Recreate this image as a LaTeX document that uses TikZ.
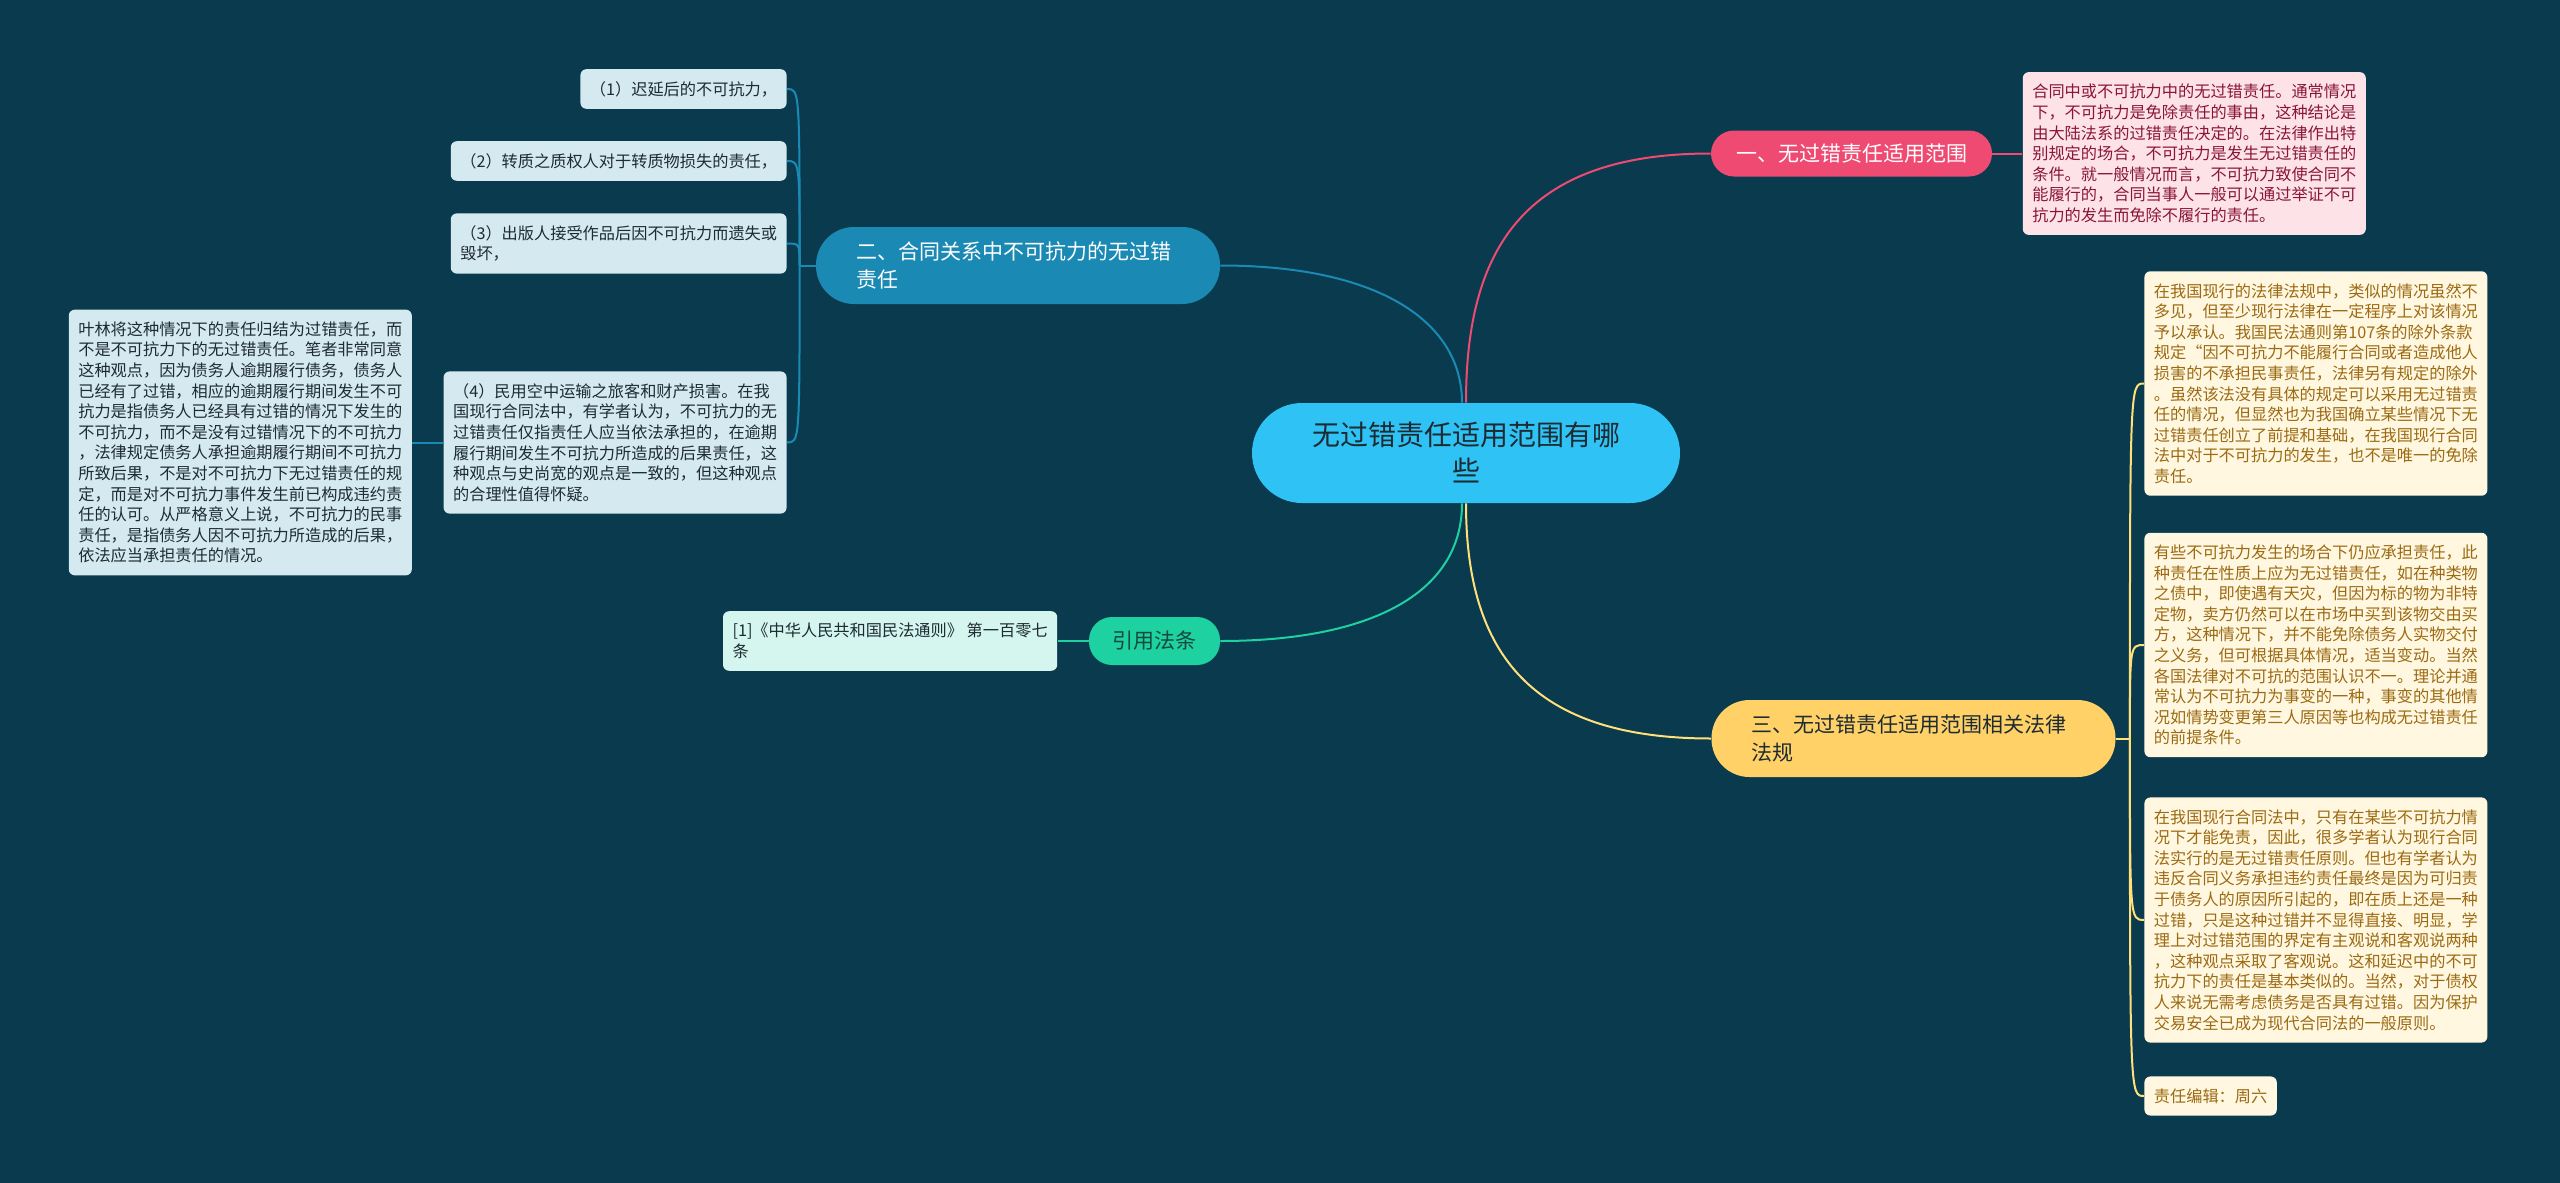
\documentclass[tikz,border=0pt]{standalone}
\usepackage{fontspec}
\setmainfont{Noto Sans CJK SC}
\usepackage{xcolor}
\usepackage{tikz}
\usetikzlibrary{positioning,calc}

\definecolor{bgc}{HTML}{0A3A4E}
\definecolor{rootc}{HTML}{2EC3F4}
\definecolor{pinkc}{HTML}{EE4A72}
\definecolor{pinkl}{HTML}{FDE3E8}
\definecolor{pinkt}{HTML}{8A1538}
\definecolor{bluec}{HTML}{1A8AB4}
\definecolor{bluel}{HTML}{D5E9F1}
\definecolor{greenc}{HTML}{1DD1A1}
\definecolor{greenl}{HTML}{D4F6EE}
\definecolor{citet}{HTML}{17483E}
\definecolor{yelc}{HTML}{FFD166}
\definecolor{yell}{HTML}{FFF7E0}
\definecolor{yelt}{HTML}{9C6A12}
\definecolor{yelline}{HTML}{FFE07A}
\definecolor{darkt}{HTML}{1E2B33}

\begin{document}
\begin{tikzpicture}[
  x=0.5pt, y=-0.5pt,
  root/.style={fill=rootc, text=darkt, rounded corners=25pt,
               minimum width=214pt, minimum height=50pt,
               align=center, font=\fontsize{14pt}{18pt}\selectfont},
  topic/.style={rounded corners=11.5pt, minimum height=23pt,
                align=center, font=\fontsize{10.5pt}{14pt}\selectfont},
  topicw/.style={rounded corners=19pt, minimum height=38.5pt,
                 text width=162pt, inner xsep=20pt,
                 align=left, font=\fontsize{10.5pt}{14pt}\selectfont},
  leaf/.style={rounded corners=3pt, inner xsep=4.75pt, inner ysep=6pt,
               align=left, font=\fontsize{8.1pt}{10.3pt}\selectfont},
  pleaf/.style={leaf, fill=pinkl, text=pinkt},
  bleaf/.style={leaf, fill=bluel, text=darkt},
  gleaf/.style={leaf, fill=greenl, text=darkt},
  yleaf/.style={leaf, fill=yell, text=yelt},
  pline/.style={draw=pinkc, line width=1pt},
  bline/.style={draw=bluec, line width=1pt},
  gline/.style={draw=greenc, line width=1pt},
  yline/.style={draw=yelline, line width=1pt},
]

\useasboundingbox (0,0) rectangle (2560,1183);
\fill[bgc] (0,0) rectangle (2560,1183);

%% Root
\node[root] (root) at (1466,453) {无过错责任适用范围有哪\\些};

%% Branch one
\node[topic, fill=pinkc, text=white, minimum width=140.5pt] (b1) at (1851.5,153.5)
  {一、无过错责任适用范围};
\node[pleaf, right=15pt of b1] (p1)
  {合同中或不可抗力中的无过错责任。通常情况\\
   下，不可抗力是免除责任的事由，这种结论是\\
   由大陆法系的过错责任决定的。在法律作出特\\
   别规定的场合，不可抗力是发生无过错责任的\\
   条件。就一般情况而言，不可抗力致使合同不\\
   能履行的，合同当事人一般可以通过举证不可\\
   抗力的发生而免除不履行的责任。};

%% Branch two
\node[topicw, fill=bluec, text=white] (b2) at (1018,265.5)
  {二、合同关系中不可抗力的无过错\\责任};
\node[bleaf, anchor=east] (q1) at (787,89) {（1）迟延后的不可抗力，};
\node[bleaf, anchor=east] (q2) at (787,161) {（2）转质之质权人对于转质物损失的责任，};
\node[bleaf, anchor=east] (q3) at (787,243.5)
  {（3）出版人接受作品后因不可抗力而遗失或\\毁坏，};
\node[bleaf, anchor=east] (q4) at (787,442.5)
  {（4）民用空中运输之旅客和财产损害。在我\\
   国现行合同法中，有学者认为，不可抗力的无\\
   过错责任仅指责任人应当依法承担的，在逾期\\
   履行期间发生不可抗力所造成的后果责任，这\\
   种观点与史尚宽的观点是一致的，但这种观点\\
   的合理性值得怀疑。};
\node[bleaf, left=15.5pt of q4] (q5)
  {叶林将这种情况下的责任归结为过错责任，而\\
   不是不可抗力下的无过错责任。笔者非常同意\\
   这种观点，因为债务人逾期履行债务，债务人\\
   已经有了过错，相应的逾期履行期间发生不可\\
   抗力是指债务人已经具有过错的情况下发生的\\
   不可抗力，而不是没有过错情况下的不可抗力\\
   ，法律规定债务人承担逾期履行期间不可抗力\\
   所致后果，不是对不可抗力下无过错责任的规\\
   定，而是对不可抗力事件发生前已构成违约责\\
   任的认可。从严格意义上说，不可抗力的民事\\
   责任，是指债务人因不可抗力所造成的后果，\\
   依法应当承担责任的情况。};

%% Cited law
\node[topic, fill=greenc, text=citet, minimum width=65.5pt, minimum height=24pt] (cite)
  at (1154.5,641) {引用法条};
\node[gleaf, left=15.5pt of cite] (c1)
  {[1]《中华人民共和国民法通则》 第一百零七\\条};

%% Branch three
\node[topicw, fill=yelc, text=darkt] (b3) at (1913.5,738.5)
  {三、无过错责任适用范围相关法律\\法规};
\node[yleaf, anchor=west] (y1) at (2144,383.5)
  {在我国现行的法律法规中，类似的情况虽然不\\
   多见，但至少现行法律在一定程序上对该情况\\
   予以承认。我国民法通则第107条的除外条款\\
   规定“因不可抗力不能履行合同或者造成他人\\
   损害的不承担民事责任，法律另有规定的除外\\
   。虽然该法没有具体的规定可以采用无过错责\\
   任的情况，但显然也为我国确立某些情况下无\\
   过错责任创立了前提和基础，在我国现行合同\\
   法中对于不可抗力的发生，也不是唯一的免除\\
   责任。};
\node[yleaf, anchor=west] (y2) at (2144,645)
  {有些不可抗力发生的场合下仍应承担责任，此\\
   种责任在性质上应为无过错责任，如在种类物\\
   之债中，即使遇有天灾，但因为标的物为非特\\
   定物，卖方仍然可以在市场中买到该物交由买\\
   方，这种情况下，并不能免除债务人实物交付\\
   之义务，但可根据具体情况，适当变动。当然\\
   各国法律对不可抗的范围认识不一。理论并通\\
   常认为不可抗力为事变的一种，事变的其他情\\
   况如情势变更第三人原因等也构成无过错责任\\
   的前提条件。};
\node[yleaf, anchor=west] (y3) at (2144,920)
  {在我国现行合同法中，只有在某些不可抗力情\\
   况下才能免责，因此，很多学者认为现行合同\\
   法实行的是无过错责任原则。但也有学者认为\\
   违反合同义务承担违约责任最终是因为可归责\\
   于债务人的原因所引起的，即在质上还是一种\\
   过错，只是这种过错并不显得直接、明显，学\\
   理上对过错范围的界定有主观说和客观说两种\\
   ，这种观点采取了客观说。这和延迟中的不可\\
   抗力下的责任是基本类似的。当然，对于债权\\
   人来说无需考虑债务是否具有过错。因为保护\\
   交易安全已成为现代合同法的一般原则。};
\node[yleaf, anchor=west] (y4) at (2144,1096) {责任编辑：周六};

%% Root to branches
\draw[pline](root.north) .. controls +(0,-150) and +(-190,0) .. (b1.west);
\draw[bline]([xshift=-2pt]root.north) .. controls +(0,-80) and +(160,0) .. (b2.east);
\draw[gline]([xshift=-2pt]root.south) .. controls +(0,90) and +(150,0) .. (cite.east);
\draw[yline](root.south) .. controls +(0,150) and +(-180,0) .. (b3.west);

%% Branches to leaves
\draw[pline](b1)--(p1);
\draw[gline](cite)--(c1);
\draw[bline](q4)--(q5);

\coordinate (j2) at ($(b2.west)+(-16,0)$);
\draw[bline](b2.west)--(j2);
\foreach \n in {q1,q2,q3,q4}
  \draw[bline](j2) .. controls (j2 |- \n.east) .. (\n.east);

\coordinate (j3) at ($(b3.east)+(14,0)$);
\draw[yline](b3.east)--(j3);
\foreach \n in {y1,y2,y3,y4}
  \draw[yline](j3) .. controls (j3 |- \n.west) .. (\n.west);

\end{tikzpicture}
\end{document}
